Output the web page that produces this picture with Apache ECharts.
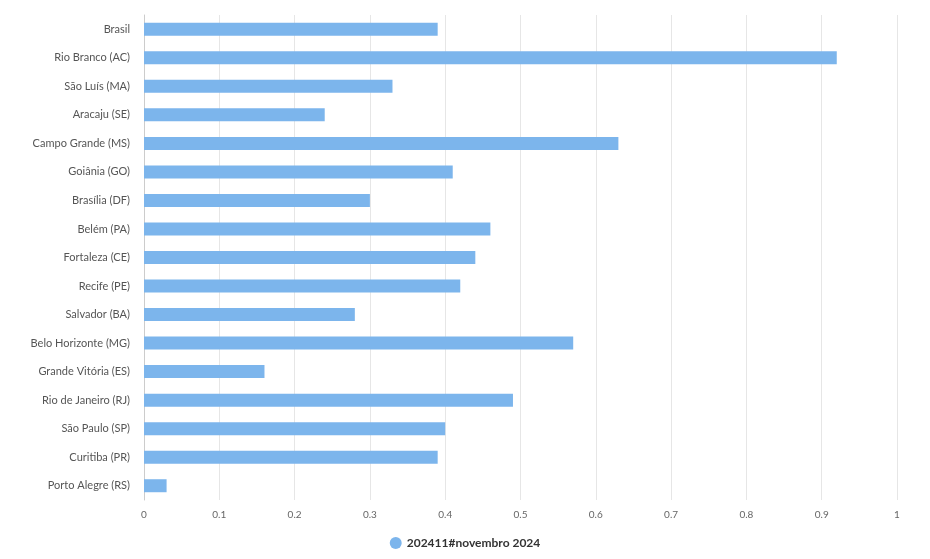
<!DOCTYPE html>
<html>
<head>
<meta charset="utf-8">
<script src="https://cdn.jsdelivr.net/npm/echarts@6/dist/echarts.min.js"></script>
<style>html,body{margin:0;padding:0;background:#fff}#chart{width:930px;height:559px}</style>
</head>
<body>
<div id="chart"></div>
<script>
const categories = ['Brasil', 'Rio Branco (AC)', 'São Luís (MA)', 'Aracaju (SE)', 'Campo Grande (MS)', 'Goiânia (GO)', 'Brasília (DF)', 'Belém (PA)', 'Fortaleza (CE)', 'Recife (PE)', 'Salvador (BA)', 'Belo Horizonte (MG)', 'Grande Vitória (ES)', 'Rio de Janeiro (RJ)', 'São Paulo (SP)', 'Curitiba (PR)', 'Porto Alegre (RS)']
const seriesName = '202411#novembro 2024'
const values = [0.39, 0.92, 0.33, 0.24, 0.63, 0.41, 0.30, 0.46, 0.44, 0.42, 0.28, 0.57, 0.16, 0.49, 0.40, 0.39, 0.03]

const myChart = echarts.init(document.getElementById('chart'))
myChart.setOption({
  animation: false,
  textStyle: { fontFamily: 'Lato' },
  legend: {
    data: [seriesName],
    bottom: 5,
    icon: 'circle',
    itemWidth: 12,
    itemHeight: 12,
    textStyle: { color: '#333', fontSize: 12, fontWeight: 'bold' }
  },
  grid: { left: 144, right: 33, top: 15, bottom: 59 },
  xAxis: {
    type: 'value',
    min: 0,
    max: 1,
    interval: 0.1,
    axisLine: { show: false },
    axisTick: { show: false },
    axisLabel: { color: '#666', fontSize: 10, margin: 10 },
    splitLine: { lineStyle: { color: '#e6e6e6' } }
  },
  yAxis: {
    type: 'category',
    inverse: true,
    data: categories,
    axisLine: { lineStyle: { color: '#ccc' } },
    axisTick: { lineStyle: { color: '#ccc' } },
    axisLabel: { color: '#555', fontSize: 11, margin: 14 }
  },
  series: [{
    name: seriesName,
    type: 'bar',
    data: values,
    barWidth: 13,
    itemStyle: { color: '#7cb5ec' }
  }]
})
</script>
</body>
</html>
